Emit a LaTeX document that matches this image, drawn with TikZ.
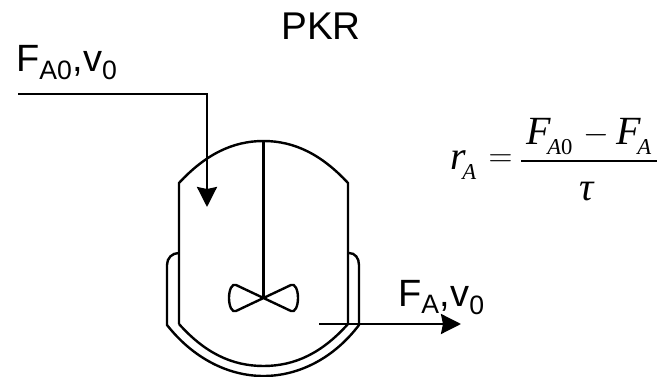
\documentclass[tikz,border=0pt]{standalone}
\usepackage{fontspec}
\setmainfont{Liberation Sans}
\newfontfamily\formulafont{Liberation Serif}
\usetikzlibrary{arrows.meta}
\tikzset{
  wall/.style={line width=1.8pt, line join=miter},
  stream/.style={line width=1.8pt, -{Stealth[length=15pt,width=15pt,inset=1.5pt]}},
  label/.style={inner sep=0pt, anchor=base west, font=\fontsize{28.5}{28.5}\selectfont},
  term/.style={inner sep=0pt, anchor=base west, font=\formulafont\itshape\fontsize{30}{30}\selectfont},
  subterm/.style={inner sep=0pt, anchor=base west, font=\formulafont\itshape\fontsize{17}{17}\selectfont},
  sign/.style={inner sep=0pt, anchor=center, font=\fontsize{29}{29}\selectfont},
}
\begin{document}
\begin{tikzpicture}[x=0.75pt,y=-0.75pt]
      \useasboundingbox (0,0) rectangle (658,377);
      \draw
        (321,40) node[inner sep=0pt, anchor=base, font=\fontsize{29}{29}\selectfont] (title){PKR}
        (16,72) node[label] (feed){F\textsubscript{A0},v\textsubscript{0}}
        (398,307) node[label] (product){F\textsubscript{A},v\textsubscript{0}};
      \coordinate (feedstart) at (18,94);
      \coordinate (feedbend) at (207,94);
      \coordinate (feedend) at (207,207);
      \coordinate (productstart) at (319,324);
      \coordinate (productend) at (461,324);
      \coordinate (hub) at (263.5,298);
      \coordinate (lid) at (263.5,141);
      \begin{scope}[wall]
        \draw (179,324) -- (179,183) .. controls (205,155) and (232,141) .. (lid)
          .. controls (295,141) and (322,155) .. (348,183) -- (348,324)
          .. controls (322,353) and (295,366) .. (263.5,366)
          .. controls (232,366) and (205,353) .. (179,324);
        \draw (179,253) .. controls (172,253) and (167,258) .. (167,265) -- (167,325)
          .. controls (193,358) and (228,376) .. (263.5,376)
          .. controls (299,376) and (334,358) .. (359,325) -- (359,265)
          .. controls (359,258) and (355,253) .. (349,253);
        \draw (lid) -- (hub);
        \draw (hub) -- (236,311) .. controls (232,313) and (229,306) .. (229,298)
          .. controls (229,290) and (232,283) .. (236,285) -- (hub)
          -- (291,285) .. controls (295,283) and (298,290) .. (298,298)
          .. controls (298,306) and (295,313) .. (291,311) -- (hub);
      \end{scope}
      \draw[stream] (feedstart) -- (feedbend) -- (feedend);
      \draw[stream] (productstart) -- (productend);
      \draw
        (450,170) node[term] (rate){r}
        (462,180) node[subterm] (ratesub){A}
        (500.5,161) node[sign] (equal){$=$}
        (526,145) node[term] (inflow){F}
        (547,155) node[subterm] (inflowsub){A{\upshape 0}}
        (596,135) node[sign] (minus){$-$}
        (616,145) node[term] (outflow){F}
        (637,155) node[subterm] (outflowsub){A}
        (587,201) node[term, anchor=base] (holdup){τ};
      \coordinate (barleft) at (521,161);
      \coordinate (barright) at (657,161);
      \draw[line width=1.5pt] (barleft) -- (barright);
\end{tikzpicture}
\end{document}
